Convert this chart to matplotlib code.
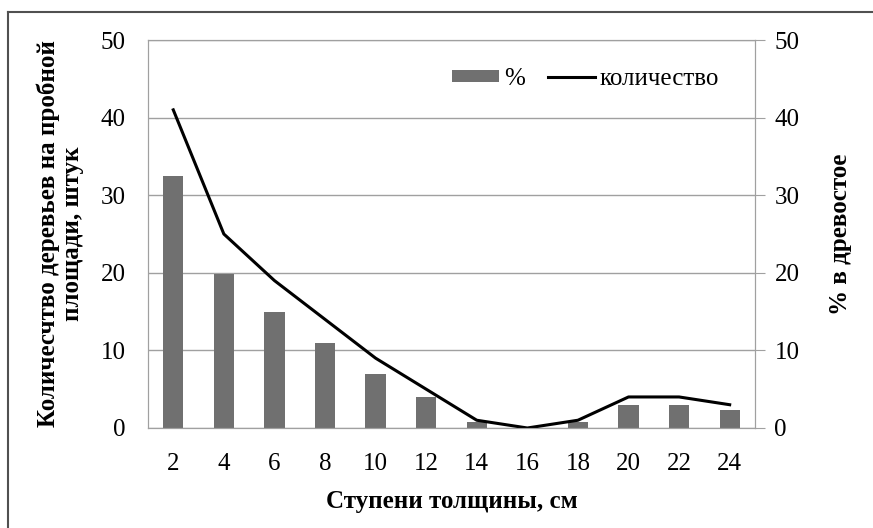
import matplotlib
matplotlib.use('Agg')
import matplotlib.pyplot as plt
from matplotlib.lines import Line2D

# data
steps = ['2', '4', '6', '8', '10', '12', '14', '16', '18', '20', '22', '24']
percent = [32.5, 19.8, 15, 11, 7, 4, 0.8, 0, 0.8, 3, 3, 2.3]
count = [41, 25, 19, 14, 9, 5, 1, 0, 1, 4, 4, 3]
yticks = [0, 10, 20, 30, 40, 50]

plt.rcParams['font.family'] = ['Liberation Serif', 'DejaVu Serif']

fig = plt.figure(figsize=(8.73, 5.28), dpi=100)
ax = fig.add_axes([0.1695, 0.1894, 0.6953, 0.7348])
ax2 = ax.twinx()

x = range(len(steps))
bars = ax.bar(x, percent, width=0.4, color='#707070', label='%', zorder=2)
line, = ax.plot(x, count, color='black', linewidth=2.2, label='количество', zorder=3)

ax.set_xlim(-0.5, len(steps) - 0.5)
ax.set_ylim(0, 50)
ax2.set_ylim(0, 50)
ax.set_yticks(yticks)
ax2.set_yticks(yticks)
ax.set_xticks(list(x))
ax.set_xticklabels(steps)
ax.grid(axis='y', color='#a0a0a0', linewidth=1, zorder=0)
ax.set_axisbelow(True)

for a in (ax, ax2):
    for s in a.spines.values():
        s.set_color('#a0a0a0')
ax.tick_params(axis='y', labelsize=18, length=0, pad=16)
ax.tick_params(axis='x', labelsize=18, length=0, pad=18)
ax2.tick_params(axis='y', labelsize=18, length=7, color='#a0a0a0', pad=7)

ax.set_ylabel('Количесчтво деревьев на пробной\nплощади, штук', fontsize=18,
              fontweight='bold', labelpad=12, linespacing=1.05)
ax2.set_ylabel('% в древостое', fontsize=18, fontweight='bold', labelpad=21)
ax.set_xlabel('Ступени толщины, см', fontsize=18, fontweight='bold', labelpad=11)

ax.legend([bars, line], ['%', 'количество'], loc='upper right',
          bbox_to_anchor=(0.962, 0.96), ncol=2, frameon=False, borderpad=0,
          fontsize=18, handlelength=1.9, handleheight=0.4, handletextpad=0.2,
          columnspacing=0.9)

# outer frame (top and left edges visible)
fig.add_artist(Line2D([8 / 873, 1], [1 - 12 / 528, 1 - 12 / 528], color='#505050', linewidth=1.5))
fig.add_artist(Line2D([8 / 873, 8 / 873], [0, 1 - 12 / 528], color='#505050', linewidth=1.5))

fig.savefig('out.png', dpi=100)
